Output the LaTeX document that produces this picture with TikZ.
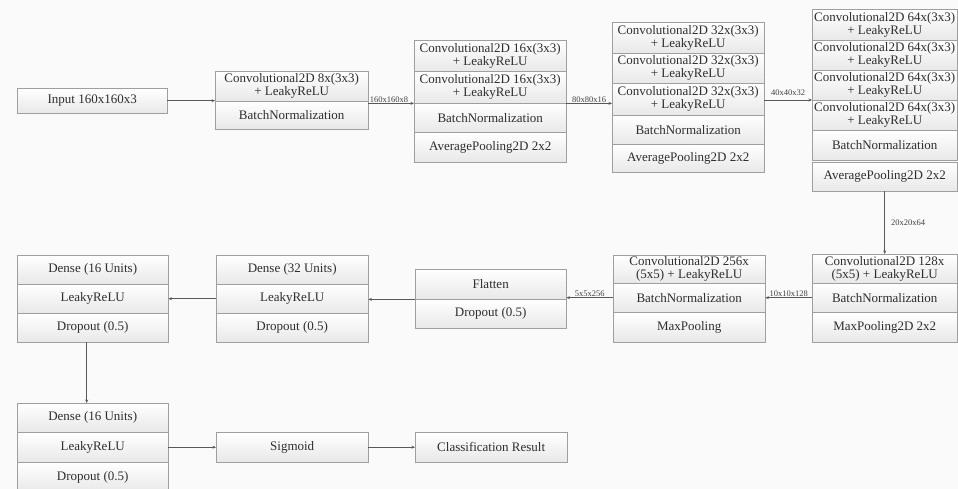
\documentclass[tikz,border=0pt]{standalone}
\usepackage{fontspec}
\setmainfont{Liberation Serif}
\usetikzlibrary{arrows.meta}
\tikzset{
  cell/.style={draw=gray!75, top color=white, bottom color=gray!18, anchor=north west,
    inner sep=0pt, align=center, text=black!82,
    font=\fontsize{13}{13.2}\selectfont},
  conn/.style={draw=gray!70!black, line width=0.6pt, -{Stealth[length=3.5pt,width=3pt]}},
  dimlabel/.style={font=\fontsize{8.5}{9}\selectfont, text=black!75, inner sep=1pt}
}
\newcommand{\cellat}[6]{\node[cell, minimum width=#4pt, minimum height=#5pt] (#1) at (#2pt,-#3pt) {#6};}
\begin{document}
\begin{tikzpicture}[x=1pt,y=1pt]
\fill[gray!4] (0,0) rectangle (958,-489);
\useasboundingbox (0,0) rectangle (958,-489);
% row 1
\cellat{inp}{17}{88}{150}{25}{Input 160x160x3}
\cellat{c8a}{215}{71}{153}{30}{Convolutional2D 8x(3x3)\\+ LeakyReLU}
\cellat{c8b}{215}{101}{153}{28}{BatchNormalization}
\cellat{c16a}{414}{40}{152}{31}{Convolutional2D 16x(3x3)\\+ LeakyReLU}
\cellat{c16b}{414}{71}{152}{32}{Convolutional2D 16x(3x3)\\+ LeakyReLU}
\cellat{c16c}{414}{103}{152}{29}{BatchNormalization}
\cellat{c16d}{414}{132}{152}{30}{AveragePooling2D 2x2}
\cellat{c32a}{612}{22}{152}{31}{Convolutional2D 32x(3x3)\\+ LeakyReLU}
\cellat{c32b}{612}{53}{152}{30}{Convolutional2D 32x(3x3)\\+ LeakyReLU}
\cellat{c32c}{612}{83}{152}{32}{Convolutional2D 32x(3x3)\\+ LeakyReLU}
\cellat{c32d}{612}{115}{152}{29}{BatchNormalization}
\cellat{c32e}{612}{144}{152}{28}{AveragePooling2D 2x2}
\cellat{c64a}{812}{9}{145}{31}{Convolutional2D 64x(3x3)\\+ LeakyReLU}
\cellat{c64b}{812}{40}{145}{30}{Convolutional2D 64x(3x3)\\+ LeakyReLU}
\cellat{c64c}{812}{70}{145}{30}{Convolutional2D 64x(3x3)\\+ LeakyReLU}
\cellat{c64d}{812}{100}{145}{30}{Convolutional2D 64x(3x3)\\+ LeakyReLU}
\cellat{c64e}{812}{130}{145}{30}{BatchNormalization}
\cellat{c64f}{812}{162}{145}{29}{AveragePooling2D 2x2}
% row 2
\cellat{c128a}{812}{254}{145}{29}{Convolutional2D 128x\\(5x5) + LeakyReLU}
\cellat{c128b}{812}{283}{145}{29}{BatchNormalization}
\cellat{c128c}{812}{312}{145}{30}{MaxPooling2D 2x2}
\cellat{c256a}{613}{255}{152}{28}{Convolutional2D 256x\\(5x5) + LeakyReLU}
\cellat{c256b}{613}{283}{152}{29}{BatchNormalization}
\cellat{c256c}{613}{312}{152}{30}{MaxPooling}
\cellat{fla}{415}{269}{151}{30}{Flatten}
\cellat{flb}{415}{299}{151}{29}{Dropout (0.5)}
\cellat{d32a}{216}{255}{152}{29}{Dense (32 Units)}
\cellat{d32b}{216}{284}{152}{29}{LeakyReLU}
\cellat{d32c}{216}{313}{152}{29}{Dropout (0.5)}
\cellat{d16a}{17}{255}{151}{29}{Dense (16 Units)}
\cellat{d16b}{17}{284}{151}{29}{LeakyReLU}
\cellat{d16c}{17}{313}{151}{29}{Dropout (0.5)}
% row 3
\cellat{e16a}{17}{403}{151}{29}{Dense (16 Units)}
\cellat{e16b}{17}{432}{151}{30}{LeakyReLU}
\cellat{e16c}{17}{462}{151}{30}{Dropout (0.5)}
\cellat{sig}{216}{432}{152}{30}{Sigmoid}
\cellat{cls}{415}{432}{152}{30}{Classification Result}
% connectors
\draw[conn] (inp.east) -- (inp.east -| c8a.west);
\draw[conn] (c16b.south west -| c8a.east) -- node[dimlabel, above, pos=0.45] {160x160x8} (c16b.south west);
\draw[conn] (c16b.south east) -- node[dimlabel, above, pos=0.5] {80x80x16} (c16b.south east -| c32c.west);
\draw[conn] (c64d.north west -| c32c.east) -- node[dimlabel, above=3pt, pos=0.5] {40x40x32} (c64d.north west);
\draw[conn] (c64f.south) -- node[dimlabel, right=5pt, pos=0.5] {20x20x64} (c128a.north);
\draw[conn] (c128b.west) -- node[dimlabel, above, pos=0.5] {10x10x128} (c256b.east);
\draw[conn] (c256b.west) -- node[dimlabel, above, pos=0.5] {5x5x256} (c256b.west -| fla.east);
\draw[conn] (fla.south west) -- (fla.south west -| d32b.east);
\draw[conn] (d32b.west) -- (d16b.east);
\draw[conn] ([xshift=-6pt]d16c.south) -- ([xshift=-6pt]e16a.north);
\draw[conn] (e16b.east) -- (sig.west);
\draw[conn] (sig.east) -- (cls.west);
\end{tikzpicture}
\end{document}
